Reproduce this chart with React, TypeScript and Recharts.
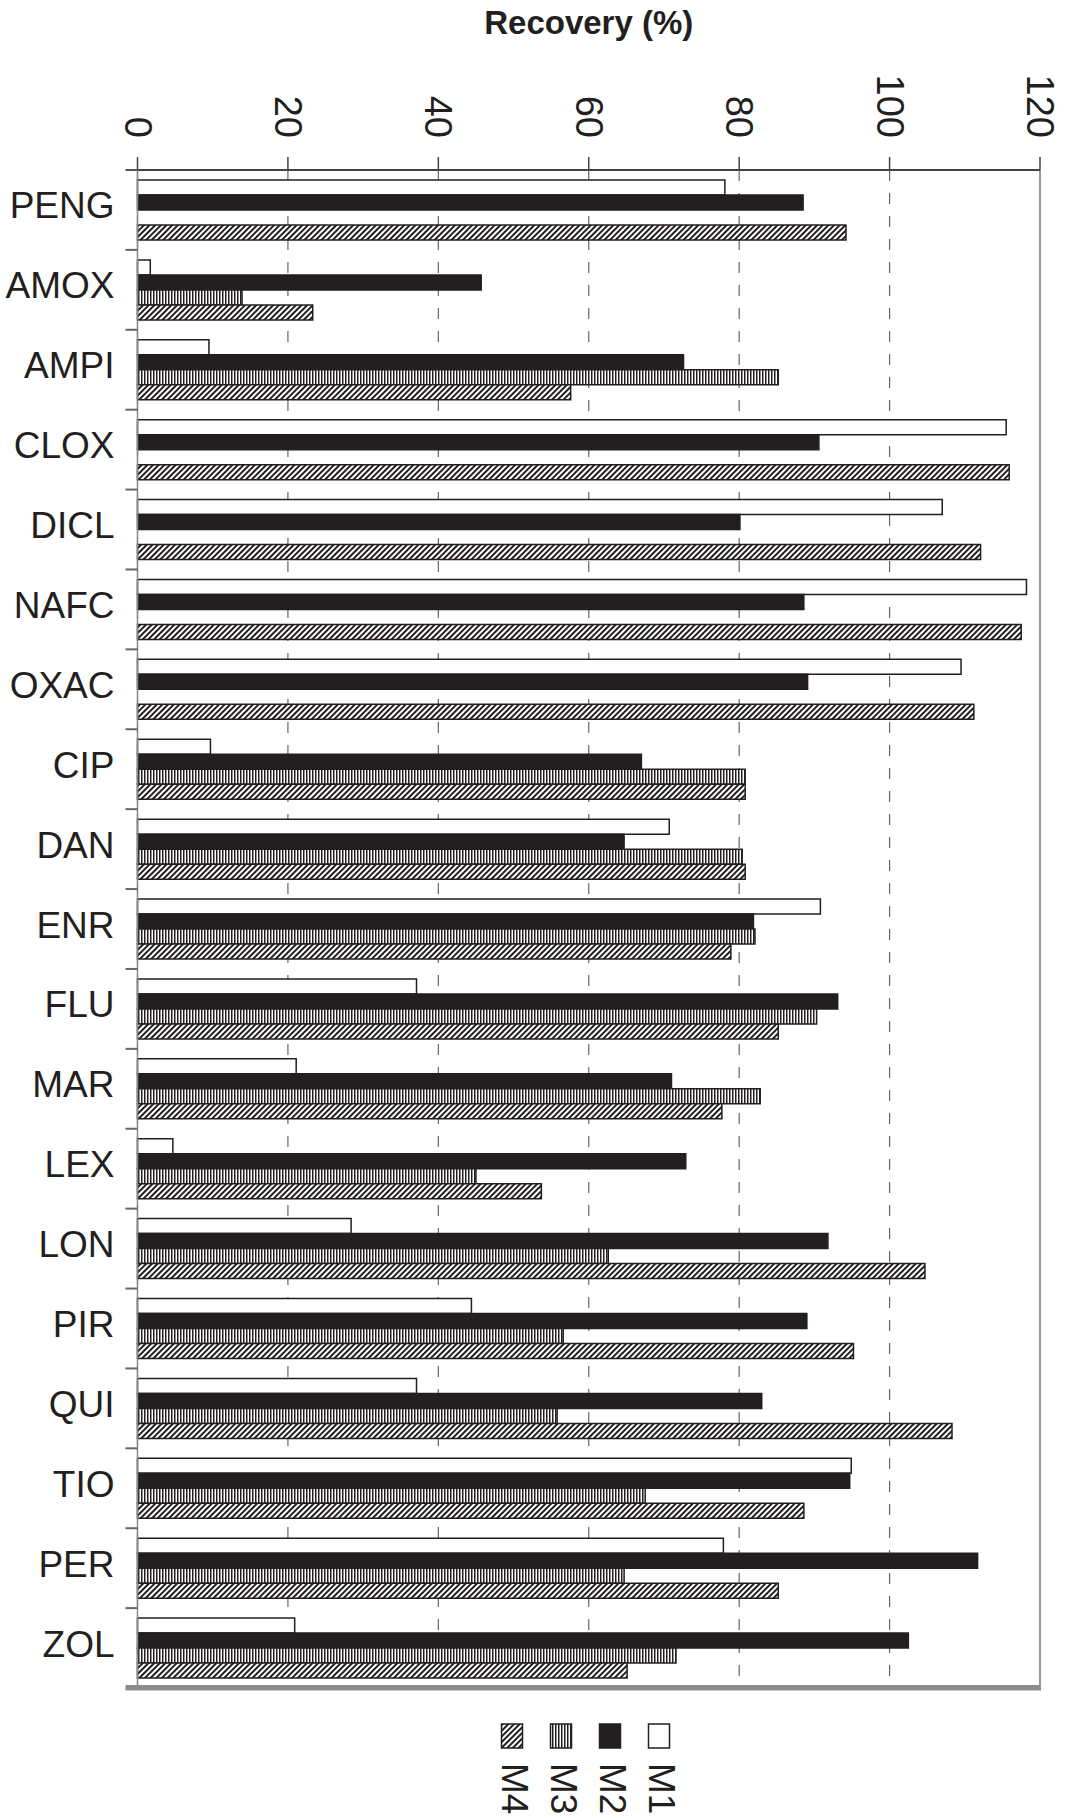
import React from 'react';
import { BarChart, Bar, XAxis, YAxis, CartesianGrid, ReferenceLine, Legend, Label } from 'recharts';

const compounds = ['PENG', 'AMOX', 'AMPI', 'CLOX', 'DICL', 'NAFC', 'OXAC', 'CIP', 'DAN', 'ENR', 'FLU', 'MAR', 'LEX', 'LON', 'PIR', 'QUI', 'TIO', 'PER', 'ZOL'];
const m1 = [78.1, 1.7, 9.5, 115.5, 107.0, 118.2, 109.5, 9.7, 70.7, 90.8, 37.1, 21.1, 4.7, 28.4, 44.4, 37.1, 94.9, 77.9, 20.9];
const m2 = [88.5, 45.7, 72.6, 90.6, 80.1, 88.6, 89.1, 67.0, 64.7, 81.9, 93.1, 71.0, 72.9, 91.8, 89.0, 83.0, 94.7, 111.7, 102.5];
const m3 = [null, 13.9, 85.2, null, null, null, null, 80.8, 80.4, 82.1, 90.3, 82.8, 45.0, 62.6, 56.6, 55.8, 67.5, 64.7, 71.6];
const m4 = [94.2, 23.3, 57.6, 115.9, 112.1, 117.5, 111.2, 80.8, 80.8, 78.9, 85.2, 77.7, 53.7, 104.7, 95.2, 108.3, 88.6, 85.2, 65.1];
const recoveryTicks = [0, 20, 40, 60, 80, 100, 120];

const INK = '#231f20';

const series = [
  { key: 'M1', fill: '#ffffff' },
  { key: 'M2', fill: INK },
  { key: 'M3', fill: 'url(#m3Stripes)' },
  { key: 'M4', fill: 'url(#m4Hatch)' },
];

const data = compounds.map((name, i) => ({ name, M1: m1[i], M2: m2[i], M3: m3[i], M4: m4[i] }));

const W = 1066;
const H = 1818;
const MARGIN_RIGHT = 26;
const PLOT_LEFT = 137.5;
const PLOT_RIGHT = W - MARGIN_RIGHT;
const PLOT_TOP = 170;
const PLOT_BOTTOM = 1688;
const LEGEND_H = H - PLOT_BOTTOM;
const BAND = (PLOT_BOTTOM - PLOT_TOP) / compounds.length;

function CompoundTick(props: any) {
  const { y, payload, index } = props;
  const half = BAND / 2;
  const last = index === compounds.length - 1;
  return (
    <g>
      <text x={PLOT_LEFT - 23} y={y - 4} textAnchor="end" dominantBaseline="central" fontSize={37} fill={INK}>
        {payload.value}
      </text>
      <line
        x1={PLOT_LEFT - 12}
        x2={last ? PLOT_RIGHT : PLOT_LEFT}
        y1={y + half - (last ? 1.5 : 0)}
        y2={y + half - (last ? 1.5 : 0)}
        stroke={last ? '#8c8c8c' : '#666'}
        strokeWidth={last ? 3 : 2}
      />
      {index === 0 && (
        <line x1={PLOT_LEFT - 12} x2={PLOT_LEFT} y1={y - half} y2={y - half} stroke="#555" strokeWidth={2} />
      )}
    </g>
  );
}

function RecoveryTick(props: any) {
  const { x, payload } = props;
  return (
    <text
      transform={`translate(${x},138) rotate(90)`}
      textAnchor="end"
      dominantBaseline="central"
      fontSize={38}
      fill={INK}
    >
      {payload.value}
    </text>
  );
}

function MethodLegend() {
  const order = [...series].reverse();
  return (
    <svg width={PLOT_RIGHT + 2} height={LEGEND_H} style={{ display: 'block' }}>
      <rect x={PLOT_LEFT - 12} y={0} width={PLOT_RIGHT - PLOT_LEFT + 13} height={2.5} fill="#8c8c8c" />
      {order.map((s, i) => {
        const cx = 512 + i * 49;
        return (
          <g key={s.key}>
            <rect x={cx - 10.5} y={36} width={21} height={24} fill={s.fill} stroke={INK} strokeWidth={1.5} />
            <text
              transform={`translate(${cx + 2},75) rotate(90)`}
              textAnchor="start"
              dominantBaseline="central"
              fontSize={37}
              fill={INK}
            >
              {s.key}
            </text>
          </g>
        );
      })}
    </svg>
  );
}

export default function App() {
  return (
    <div style={{ position: 'absolute', left: 0, top: 0, fontFamily: '"Liberation Sans", Arial, sans-serif' }}>
      <BarChart
        width={W}
        height={H}
        data={data}
        layout="vertical"
        margin={{ top: 8, right: MARGIN_RIGHT, bottom: 0, left: 0 }}
        barCategoryGap="12.5%"
        barGap={0}
      >
        <defs>
          <pattern id="m3Stripes" width={3} height={4} patternUnits="userSpaceOnUse">
            <rect width={3} height={4} fill="#ffffff" />
            <rect width={1.5} height={4} fill={INK} />
          </pattern>
          <pattern id="m4Hatch" width={4} height={4} patternUnits="userSpaceOnUse" patternTransform="rotate(45)">
            <rect width={4} height={4} fill="#ffffff" />
            <rect width={2} height={4} fill={INK} />
          </pattern>
        </defs>
        <CartesianGrid xAxisId="top" horizontal={false} stroke="#666" strokeWidth={1.2} strokeDasharray="11 12" />
        <XAxis
          xAxisId="top"
          orientation="top"
          type="number"
          domain={[0, 120]}
          ticks={recoveryTicks}
          height={PLOT_TOP - 8}
          tickSize={13}
          axisLine={{ stroke: '#444', strokeWidth: 1.8 }}
          tickLine={{ stroke: '#444', strokeWidth: 1.5 }}
          tick={<RecoveryTick />}
        >
          <Label value="Recovery (%)" position="insideTop" offset={3} style={{ fontSize: 33, fontWeight: 'bold', fill: INK }} />
        </XAxis>
        <YAxis
          type="category"
          dataKey="name"
          width={PLOT_LEFT}
          interval={0}
          tickLine={false}
          axisLine={{ stroke: '#888', strokeWidth: 1.5 }}
          tick={<CompoundTick />}
        />
        {series.map((s) => (
          <Bar
            key={s.key}
            xAxisId="top"
            dataKey={s.key}
            fill={s.fill}
            stroke={INK}
            strokeWidth={1.5}
            isAnimationActive={false}
          />
        ))}
        <ReferenceLine xAxisId="top" x={120} stroke="#9a9a9a" strokeWidth={2} />
        <Legend verticalAlign="bottom" wrapperStyle={{ left: 0, bottom: 0 }} content={<MethodLegend />} />
      </BarChart>
    </div>
  );
}
